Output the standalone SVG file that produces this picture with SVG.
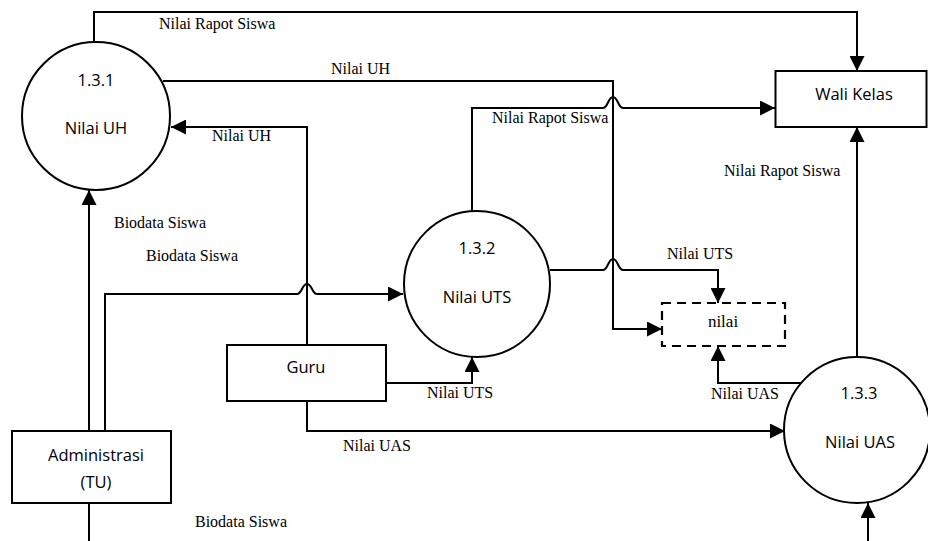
<svg xmlns="http://www.w3.org/2000/svg" width="928" height="541" viewBox="0 0 928 541">
<style>
.ln{fill:none;stroke:#000;stroke-width:2}
.shape{fill:#fff;stroke:#000;stroke-width:2}
.dash{fill:#fff;stroke:#000;stroke-width:2.2;stroke-dasharray:9 6}
.nt{font-family:"Open Sans","Noto Sans",sans-serif;font-size:16.5px;fill:#000;text-anchor:middle}
.lb{font-family:"Liberation Serif","Times New Roman",serif;font-size:16px;fill:#000}
</style>
<defs>
<marker id="ah" markerUnits="userSpaceOnUse" markerWidth="15" markerHeight="15" refX="15" refY="7.5" orient="auto">
<path d="M0,0 L15,7.5 L0,15 z" fill="#000"/>
</marker>
</defs>
<rect width="928" height="541" fill="#fff"/>
<g id="connectors">
<path class="ln" d="M94,43 V12 H857 V71" marker-end="url(#ah)"/>
<path class="ln" d="M163,81 H613 V329 H662" marker-end="url(#ah)"/>
<path class="ln" d="M307,345 V127 H171" marker-end="url(#ah)"/>
<path class="ln" d="M472,212 V108 H603 C608,108 608,97 613,97 C618,97 618,108 623,108 H775" marker-end="url(#ah)"/>
<path class="ln" d="M550,270 H603 C608,270 608,259 613,259 C618,259 618,270 623,270 H718 V303" marker-end="url(#ah)"/>
<path class="ln" d="M105,431 V294 H297 C302,294 302,284 307,284 C312,284 312,294 317,294 H403" marker-end="url(#ah)"/>
<path class="ln" d="M89,431 V190" marker-end="url(#ah)"/>
<path class="ln" d="M386,383 H472 V357" marker-end="url(#ah)"/>
<path class="ln" d="M307,401 V431 H785" marker-end="url(#ah)"/>
<path class="ln" d="M857,357 V127" marker-end="url(#ah)"/>
<path class="ln" d="M801,383 H718 V346" marker-end="url(#ah)"/>
<path class="ln" d="M89,503 V541"/>
<path class="ln" d="M868,541 V503" marker-end="url(#ah)"/>
</g>
<g id="labels">
<text class="lb" x="159" y="29">Nilai Rapot Siswa</text>
<text class="lb" x="331" y="74">Nilai UH</text>
<text class="lb" x="212" y="141">Nilai UH</text>
<text class="lb" x="492" y="123">Nilai Rapot Siswa</text>
<text class="lb" x="724" y="176">Nilai Rapot Siswa</text>
<text class="lb" x="114" y="228">Biodata Siswa</text>
<text class="lb" x="146" y="261">Biodata Siswa</text>
<text class="lb" x="667" y="259">Nilai UTS</text>
<text class="lb" x="427" y="398">Nilai UTS</text>
<text class="lb" x="343" y="451">Nilai UAS</text>
<text class="lb" x="711" y="399">Nilai UAS</text>
<text class="lb" x="195" y="527">Biodata Siswa</text>
</g>
<g id="p131">
<circle class="shape" cx="96" cy="116" r="74"/>
<text class="nt" x="96" y="86">1.3.1</text>
<text class="nt" x="96" y="134">Nilai UH</text>
</g>
<g id="p132">
<circle class="shape" cx="477" cy="284" r="73"/>
<text class="nt" x="477" y="254">1.3.2</text>
<text class="nt" x="477" y="303">Nilai UTS</text>
</g>
<g id="p133">
<circle class="shape" cx="857" cy="430" r="73"/>
<text class="nt" x="859" y="399">1.3.3</text>
<text class="nt" x="860" y="448">Nilai UAS</text>
</g>
<g id="wali">
<rect class="shape" x="775.5" y="71" width="151" height="56"/>
<text class="nt" x="854" y="100">Wali Kelas</text>
</g>
<g id="guru">
<rect class="shape" x="227" y="345" width="159" height="56"/>
<text class="nt" x="306" y="373">Guru</text>
</g>
<g id="admin">
<rect class="shape" x="12" y="431" width="159" height="72"/>
<text class="nt" x="96" y="461">Administrasi</text>
<text class="nt" x="96" y="488">(TU)</text>
</g>
<g id="store">
<rect class="dash" x="662" y="303" width="123" height="43"/>
<text class="lb" x="723" y="327" text-anchor="middle" style="font-size:17px">nilai</text>
</g>
</svg>
